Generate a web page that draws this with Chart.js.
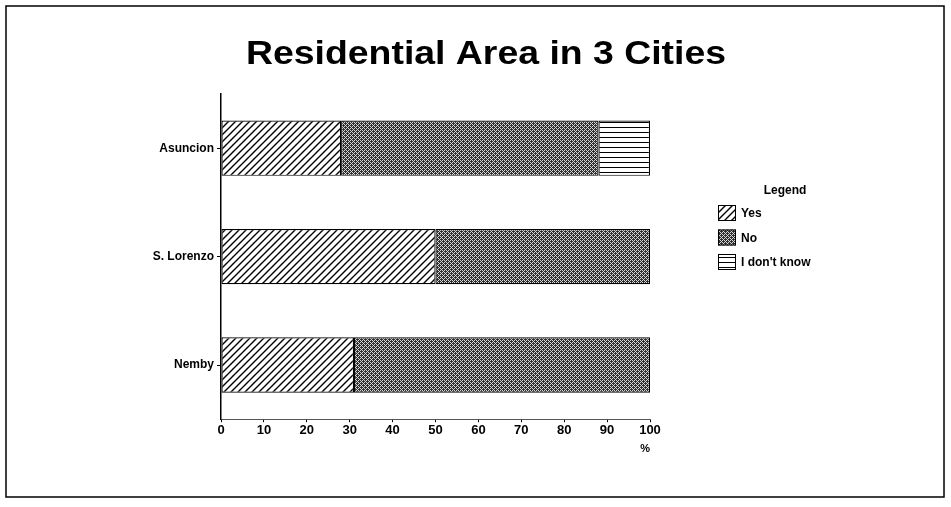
<!DOCTYPE html>
<html>
<head>
<meta charset="utf-8">
<script src="https://cdn.jsdelivr.net/npm/chart.js@4/dist/chart.umd.min.js"></script>
<style>
  html, body { margin: 0; padding: 0; background: #fff; }
  #wrap { width: 951px; height: 507px; position: relative; }
</style>
</head>
<body>
<div id="wrap"><canvas id="myChart" width="951" height="507"></canvas></div>
<script>
// data
const cities = ['Asuncion', 'S. Lorenzo', 'Nemby'];
const yesValues = [28, 50, 31];
const noValues = [60, 50, 69];
const dontKnowValues = [12, 0, 0];
const xTicks = [0, 10, 20, 30, 40, 50, 60, 70, 80, 90, 100];
const chartTitle = 'Residential Area in 3 Cities';

const FONT = '"Liberation Sans", Arial, sans-serif';

// fill patterns
function makeTile(size, draw) {
    const c = document.createElement('canvas');
    c.width = size;
    c.height = size;
    const g = c.getContext('2d');
    g.fillStyle = '#fff';
    g.fillRect(0, 0, size, size);
    draw(g, size);
    return document.createElement('canvas').getContext('2d').createPattern(c, 'repeat');
}

const hatchYes = makeTile(7, (g, s) => {
    g.strokeStyle = '#000';
    g.lineWidth = 1.4;
    g.beginPath();
    g.moveTo(0, s); g.lineTo(s, 0);
    g.moveTo(-1, 1); g.lineTo(1, -1);
    g.moveTo(s - 1, s + 1); g.lineTo(s + 1, s - 1);
    g.stroke();
});

const stippleNo = makeTile(4, (g, s) => {
    g.fillStyle = '#2e2e2e';
    g.fillRect(0, 0, s, s);
    g.fillStyle = '#d8d8d8';
    [[0, 0], [1, 1], [2, 2], [3, 3], [2, 0], [0, 2]].forEach(p => g.fillRect(p[0], p[1], 1, 1));
});

const linesDk = makeTile(5, (g, s) => {
    g.fillStyle = '#000';
    g.fillRect(0, 2, s, 1);
});

const patterns = [hatchYes, stippleNo, linesDk];

// 프레임 + 배경 + 제목
const framePlugin = {
    id: 'frame',
    beforeDraw(chart) {
        const c = chart.ctx;
        c.save();
        c.fillStyle = '#fff';
        c.fillRect(0, 0, chart.width, chart.height);
        c.strokeStyle = '#000';
        c.lineWidth = 1.5;
        c.strokeRect(6, 6, 938, 491);
        // 제목 (가로로 넓은 글꼴 흉내)
        c.font = 'bold 33px ' + FONT;
        c.fillStyle = '#000';
        c.textAlign = 'center';
        c.textBaseline = 'alphabetic';
        const w = c.measureText(chartTitle).width;
        c.translate(486, 64);
        c.scale(480 / w, 1);
        c.fillText(chartTitle, 0, 0);
        c.restore();
    }
};

// 범례
const legendPlugin = {
    id: 'boxLegend',
    afterDraw(chart) {
        const c = chart.ctx;
        c.save();
        c.fillStyle = '#000';
        c.font = 'bold 12px ' + FONT;
        c.textAlign = 'center';
        c.textBaseline = 'middle';
        c.fillText('Legend', 785, 191);
        c.textAlign = 'left';
        chart.data.datasets.forEach((ds, i) => {
            const y = 205 + i * 24.5;
            c.fillStyle = ds.backgroundColor;
            c.fillRect(718, y, 18, 16);
            c.strokeStyle = '#000';
            c.lineWidth = 1;
            c.strokeRect(718.5, y + 0.5, 17, 15);
            c.fillStyle = '#000';
            c.fillText(ds.label, 741, y + 9);
        });
        c.restore();
    }
};

const ctx = document.getElementById('myChart').getContext('2d');

const data = {
    labels: cities,
    datasets: [
        { label: 'Yes', data: yesValues },
        { label: 'No', data: noValues },
        { label: "I don't know", data: dontKnowValues }
    ].map((d, i) => Object.assign(d, {
        backgroundColor: patterns[i],
        borderColor: '#000',
        borderWidth: 1.2,
        borderSkipped: false,
        barPercentage: 1,
        categoryPercentage: 0.51
    }))
};

const options = {
    indexAxis: 'y',
    responsive: false,
    animation: false,
    layout: { padding: { left: 0, right: 301, top: 94, bottom: 51 } },
    plugins: {
        legend: { display: false },
        tooltip: { enabled: false },
        title: { display: false }
    },
    scales: {
        x: {
            stacked: true,
            min: 0,
            max: 100,
            afterBuildTicks(scale) {
                scale.ticks = xTicks.map(v => ({ value: v }));
            },
            grid: { display: true, drawOnChartArea: false, drawTicks: true, tickLength: 3, color: '#000' },
            border: { display: true, color: '#555', width: 1 },
            ticks: {
                color: '#000',
                padding: 0,
                maxRotation: 0,
                autoSkip: false,
                font: { family: FONT, size: 13, weight: 'bold' }
            },
            title: {
                display: true,
                text: '%',
                align: 'end',
                color: '#000',
                padding: { top: 5, bottom: 0 },
                font: { family: FONT, size: 11, weight: 'bold' }
            }
        },
        y: {
            stacked: true,
            afterFit(scale) { scale.width = 221; },
            grid: { display: true, offset: false, drawOnChartArea: false, drawTicks: true, tickLength: 4, color: '#000' },
            border: { display: true, color: '#000', width: 1.5 },
            ticks: {
                color: '#000',
                padding: 3,
                font: { family: FONT, size: 12, weight: 'bold' }
            }
        }
    }
};

const myChart = new Chart(ctx, {
    type: 'bar',
    data: data,
    options: options,
    plugins: [framePlugin, legendPlugin]
});
</script>
</body>
</html>
